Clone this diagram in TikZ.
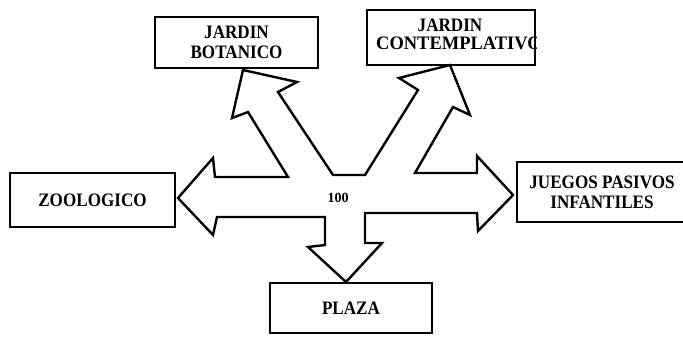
\documentclass[tikz,border=0pt]{standalone}
\usepackage{graphicx}
\usepackage{fontspec}
\setmainfont{Liberation Serif}
\newfontfamily\boxfont[FakeStretch=0.9]{Liberation Serif}
\begin{document}
\begin{tikzpicture}[x=1pt,y=-1pt,
  box/.style={draw, line width=2.4pt, rectangle, inner sep=0pt, align=center,
    font=\boxfont\fontsize{19}{20}\selectfont\bfseries},
  boxtext/.style={inner sep=0pt, align=center, font=\boxfont\fontsize{19}{20}\selectfont\bfseries},
  hub/.style={draw, line width=2.4pt, line join=miter, fill=white},
  hubtext/.style={inner sep=0pt, font=\fontsize{14}{16}\selectfont\bfseries}]
\useasboundingbox (0,0) rectangle (683,340);
\fill[white] (0,0) rectangle (683,340);

% destination boxes
\node[box, minimum width=163pt, minimum height=51pt] (botanico) at (236.5,42.5)
  {JARDIN\\BOTANICO};
\node[box, minimum width=168pt, minimum height=55pt] (contemplativo) at (451,37.5) {};
\node[box, minimum width=165pt, minimum height=54pt] (zoo) at (92.5,200) {ZOOLOGICO};
\node[box, minimum width=170pt, minimum height=60pt] (juegos) at (602,192)
  {JUEGOS PASIVOS\\INFANTILES};
\node[box, minimum width=162pt, minimum height=50pt] (plaza) at (351,308) {PLAZA};

% the long second line runs into the right border and is cut there
\node[boxtext] (contA) at (450,25) {JARDIN};
\begin{scope}
  \clip (contemplativo.north west) rectangle (contemplativo.south east);
  \node[boxtext, anchor=west] (contB) at (376,43) {\scalebox{1.08}[1]{CONTEMPLATIVO}};
\end{scope}

% five-way block arrow from the hub
\draw[hub]
  (215,177) -- (288,177)
  -- (248,112) -- (232,118) -- (243,70) -- (297,82) -- (278,92)
  -- (333,175) -- (365,175)
  -- (418,90) -- (399,78) -- (450,65) -- (470,115) -- (453,107)
  -- (415,173) -- (477,173)
  -- (477,156) -- (513,195) -- (478,231) -- (477,213)
  -- (365,213) -- (365,243) -- (382,243) -- (346,282) -- (308,247) -- (325,245)
  -- (325,217) -- (217,217)
  -- (213,235) -- (178,198) -- (213,158)
  -- cycle;

\node[hubtext] (hubvalue) at (338,198) {100};
\end{tikzpicture}
\end{document}
